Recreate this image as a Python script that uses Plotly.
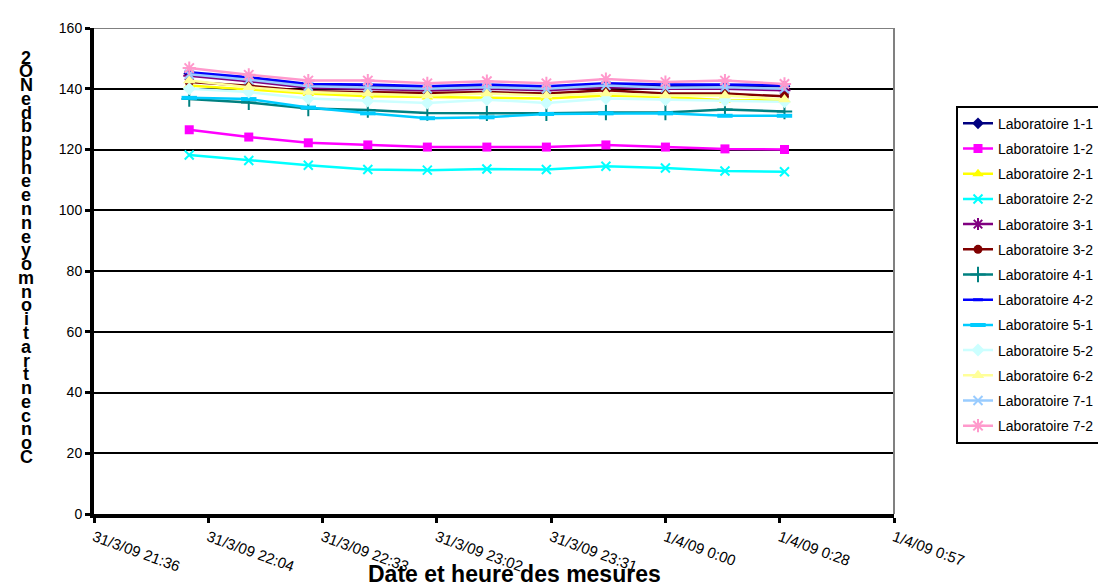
import plotly.graph_objects as go

times = ["2009-03-31 22:00", "2009-03-31 22:15", "2009-03-31 22:30", "2009-03-31 22:45",
         "2009-03-31 23:00", "2009-03-31 23:15", "2009-03-31 23:30", "2009-03-31 23:45",
         "2009-04-01 00:00", "2009-04-01 00:15", "2009-04-01 00:30"]

lab_1_1 = [145.0, 143.4, 141.3, 141.0, 140.5, 141.0, 140.5, 141.4, 141.0, 141.0, 140.8]
lab_1_2 = [126.5, 124.1, 122.2, 121.5, 120.8, 120.8, 120.8, 121.5, 120.8, 120.2, 120.0]
lab_2_1 = [141.1, 139.8, 138.4, 137.5, 137.3, 137.1, 136.8, 137.8, 137.3, 136.2, 136.2]
lab_2_2 = [118.2, 116.4, 114.8, 113.4, 113.2, 113.6, 113.4, 114.5, 113.9, 112.9, 112.7]
lab_3_1 = [144.3, 142.5, 140.3, 140.0, 139.5, 140.0, 139.5, 140.5, 140.0, 140.0, 139.5]
lab_3_2 = [142.2, 141.0, 139.2, 138.9, 138.6, 138.9, 138.4, 139.5, 138.4, 138.4, 137.5]
lab_4_1 = [136.6, 135.5, 133.5, 133.0, 132.0, 131.9, 131.9, 132.2, 132.2, 133.2, 132.5]
lab_4_2 = [145.4, 143.8, 141.6, 141.4, 140.8, 141.4, 140.8, 141.8, 141.4, 141.4, 141.1]
lab_5_1 = [137.0, 136.6, 133.8, 131.9, 130.3, 130.6, 131.7, 131.9, 131.9, 131.1, 131.1]
lab_5_2 = [140.0, 138.9, 136.8, 136.0, 135.3, 136.4, 135.3, 136.8, 136.4, 136.2, 135.7]
lab_6_2 = [142.7, 140.5, 138.9, 138.4, 137.8, 138.4, 137.8, 138.4, 137.8, 137.8, 136.5]
lab_7_1 = [144.8, 143.0, 140.8, 140.5, 140.0, 140.5, 140.0, 141.1, 140.3, 140.5, 140.0]
lab_7_2 = [146.8, 144.6, 142.7, 142.7, 141.8, 142.5, 141.8, 143.2, 142.2, 142.7, 141.6]

series_names = ["Laboratoire 1-1", "Laboratoire 1-2", "Laboratoire 2-1", "Laboratoire 2-2",
                "Laboratoire 3-1", "Laboratoire 3-2", "Laboratoire 4-1", "Laboratoire 4-2",
                "Laboratoire 5-1", "Laboratoire 5-2", "Laboratoire 6-2", "Laboratoire 7-1",
                "Laboratoire 7-2"]
series_values = [lab_1_1, lab_1_2, lab_2_1, lab_2_2, lab_3_1, lab_3_2, lab_4_1, lab_4_2,
                 lab_5_1, lab_5_2, lab_6_2, lab_7_1, lab_7_2]

x_tick_vals = ["2009-03-31 21:36:00", "2009-03-31 22:04:48", "2009-03-31 22:33:36",
               "2009-03-31 23:02:24", "2009-03-31 23:31:12", "2009-04-01 00:00:00",
               "2009-04-01 00:28:48", "2009-04-01 00:57:36"]
x_tick_text = ["31/3/09 21:36", "31/3/09 22:04", "31/3/09 22:33", "31/3/09 23:02",
               "31/3/09 23:31", "1/4/09 0:00", "1/4/09 0:28", "1/4/09 0:57"]

x_title = "Date et heure des mesures"
y_title = "Concentration moyenne en ppb de NO2"

styles = [
    ("#000080", "diamond", 9, 0),
    ("#FF00FF", "square", 9, 0),
    ("#FFFF00", "triangle-up", 10, 0),
    ("#00FFFF", "x-thin-open", 9, 2),
    ("#800080", "asterisk-open", 10, 2),
    ("#800000", "circle", 9, 0),
    ("#008080", "cross-thin-open", 11, 2),
    ("#0000FF", "line-ew-open", 7, 3),
    ("#00CCFF", "line-ew-open", 11, 4),
    ("#CCFFFF", "diamond", 10, 0),
    ("#FFFF99", "triangle-up", 11, 0),
    ("#99CCFF", "x-thin-open", 9, 2),
    ("#FF99CC", "asterisk-open", 11, 2),
]

fig = go.Figure()
for i, (name, vals) in enumerate(zip(series_names, series_values)):
    color, sym, size, lw = styles[i]
    marker = dict(symbol=sym, size=size, color=color)
    if lw:
        marker["line"] = dict(color=color, width=lw)
    else:
        marker["line"] = dict(width=0)
    fig.add_trace(go.Scatter(
        x=times, y=vals, name=name, mode="lines+markers",
        line=dict(color=color, width=2.5), marker=marker,
        legendgroup=name,
    ))

font_family = "Liberation Sans, Arial, sans-serif"

annotations = [
    dict(text="<b>%s</b>" % x_title, xref="paper", yref="paper",
         x=(506 - 86) / 800, y=(506 - 567) / 494,
         xanchor="center", yanchor="middle", showarrow=False,
         font=dict(family=font_family, size=23, color="black"))
]
# stacked, reversed characters for the y title (as in the reference)
chars = [c for c in reversed(y_title) if c != " "]
top_px, bot_px = 42, 448
n = len(chars)
for k, ch in enumerate(chars):
    ypx = top_px + (bot_px - top_px) * k / (n - 1)
    annotations.append(dict(
        text="<b>%s</b>" % ch, xref="paper", yref="paper",
        x=(18 - 86) / 800, y=(506 - ypx) / 494,
        xanchor="center", yanchor="middle", showarrow=False,
        font=dict(family=font_family, size=18, color="black")))

fig.update_layout(
    width=1106, height=587,
    margin=dict(l=86, r=220, t=12, b=81),
    paper_bgcolor="white", plot_bgcolor="white",
    font=dict(family=font_family, size=14, color="black"),
    showlegend=True,
    legend=dict(
        x=(948 - 86) / 800, y=(506 - 91) / 494, xanchor="left", yanchor="top",
        bordercolor="black", borderwidth=2, bgcolor="white",
        font=dict(family=font_family, size=14, color="black"),
        tracegroupgap=4, itemwidth=30,
    ),
    annotations=annotations,
    shapes=[
        dict(type="line", xref="paper", yref="y", x0=0, x1=1, y0=160, y1=160,
             line=dict(color="#808080", width=2), layer="above"),
        dict(type="line", xref="paper", yref="paper", x0=1, x1=1, y0=0, y1=1,
             line=dict(color="#808080", width=2), layer="above"),
    ],
)

fig.update_xaxes(
    type="date",
    range=["2009-03-31 21:36:00", "2009-04-01 00:57:36"],
    tickmode="array", tickvals=x_tick_vals, ticktext=x_tick_text,
    tickangle=20, tickfont=dict(size=15, color="black"),
    ticks="outside", ticklen=5, tickwidth=3, tickcolor="black",
    showline=True, linecolor="black", linewidth=4,
    showgrid=False, zeroline=False,
)
fig.update_yaxes(
    range=[0, 160], dtick=20, tick0=0,
    tickfont=dict(size=14, color="black"),
    ticks="outside", ticklen=5, tickwidth=3, tickcolor="black",
    showline=True, linecolor="black", linewidth=4,
    showgrid=True, gridcolor="black", gridwidth=2,
    zeroline=False,
)

fig.write_html("out.html")
